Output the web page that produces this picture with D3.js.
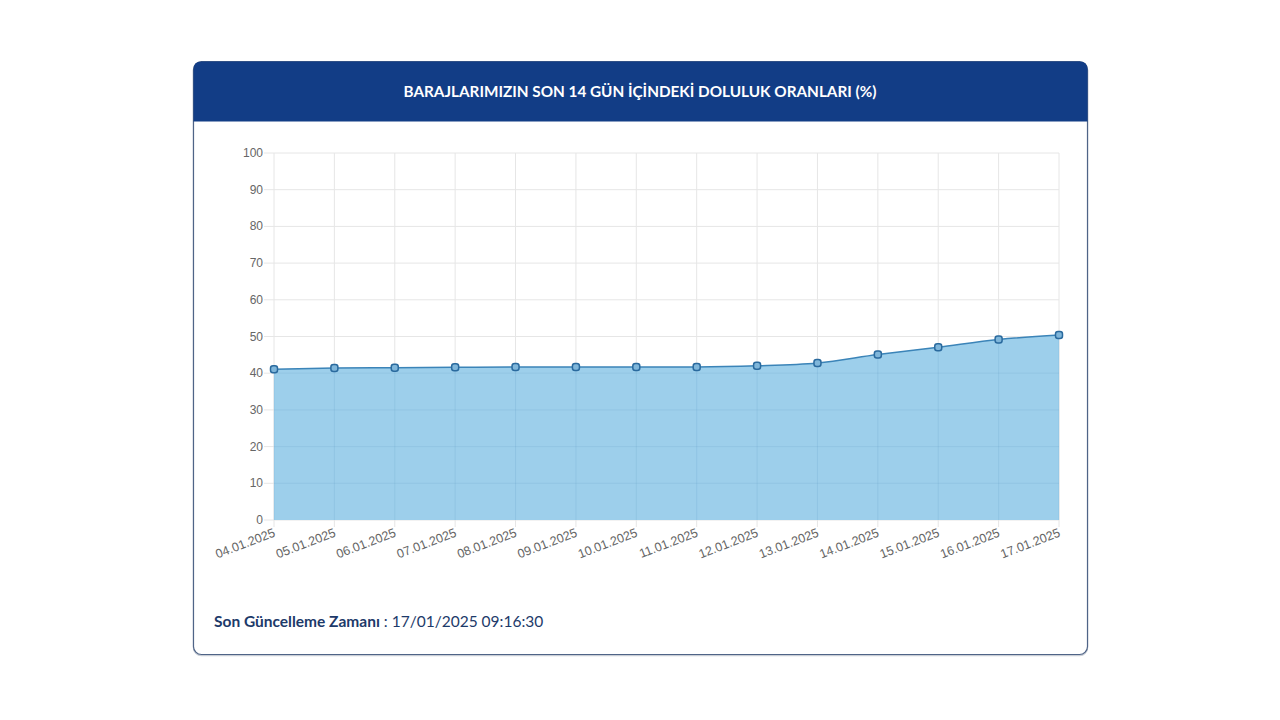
<!DOCTYPE html>
<html><head><meta charset="utf-8">
<script src="https://cdn.jsdelivr.net/npm/d3@7"></script>
<style>
html,body{margin:0;padding:0;background:#fff;width:1280px;height:720px;overflow:hidden;}
svg{display:block;}
</style></head>
<body>
<svg id="c" width="1280" height="720"></svg>
<script>
const dates = ["04.01.2025","05.01.2025","06.01.2025","07.01.2025","08.01.2025","09.01.2025","10.01.2025","11.01.2025","12.01.2025","13.01.2025","14.01.2025","15.01.2025","16.01.2025","17.01.2025"];
const values = [41.1, 41.4, 41.5, 41.6, 41.7, 41.7, 41.7, 41.7, 42.0, 42.8, 45.1, 47.1, 49.2, 50.4];
const yTicks = [0,10,20,30,40,50,60,70,80,90,100];
const title = "BARAJLARIMIZIN SON 14 GÜN İÇİNDEKİ DOLULUK ORANLARI (%)";
const footLabel = "Son Güncelleme Zamanı";
const footValue = " : 17/01/2025 09:16:30";

const svg = d3.select("#c");
// card
const card = {x:193.5,y:61.5,w:894,h:593};
svg.append("rect").attr("x",card.x).attr("y",card.y+1).attr("width",card.w).attr("height",card.h)
  .attr("rx",8).attr("fill","none").attr("stroke","#c9ced6").attr("stroke-width",1.5);
svg.append("rect").attr("x",card.x).attr("y",card.y).attr("width",card.w).attr("height",card.h)
  .attr("rx",8).attr("fill","#fff").attr("stroke","#4f6487").attr("stroke-width",1.2);
// header
const hh=60;
svg.append("path").attr("d",`M${card.x},${card.y+hh} V${card.y+8} Q${card.x},${card.y} ${card.x+8},${card.y} H${card.x+card.w-8} Q${card.x+card.w},${card.y} ${card.x+card.w},${card.y+8} V${card.y+hh} Z`)
  .attr("fill","#123d86");
svg.append("text").attr("x",640).attr("y",97).attr("text-anchor","middle")
  .attr("fill","#fff").attr("font-family","Lato, 'Open Sans', sans-serif").attr("font-weight","bold")
  .attr("font-size",15.3).text(title);

const x = d3.scalePoint().domain(dates).range([274,1059]);
const y = d3.scaleLinear().domain([0,100]).range([520,153]);

const g = svg.append("g");
// grid
g.selectAll(".hg").data(yTicks).join("line").attr("x1",264).attr("x2",1059)
  .attr("y1",d=>y(d)).attr("y2",d=>y(d)).attr("stroke","#e6e6e6").attr("stroke-width",1);
g.selectAll(".vg").data(dates).join("line").attr("x1",d=>x(d)).attr("x2",d=>x(d))
  .attr("y1",153).attr("y2",527).attr("stroke","#e6e6e6").attr("stroke-width",1);

const area = d3.area().x(d=>x(d.d)).y0(y(0)).y1(d=>y(d.v)).curve(d3.curveMonotoneX);
const line = d3.line().x(d=>x(d.d)).y(d=>y(d.v)).curve(d3.curveMonotoneX);
const data = dates.map((d,i)=>({d,v:values[i]}));
g.append("path").attr("d",area(data)).attr("fill","#9dcfeb");
// faint grid over fill
g.selectAll(".vg2").data(dates).join("line").attr("x1",d=>x(d)).attr("x2",d=>x(d))
  .attr("y1",d=>y(values[dates.indexOf(d)])).attr("y2",520).attr("stroke","rgba(60,120,170,0.12)");
g.selectAll(".hg2").data(yTicks.filter(t=>t>0&&t<=40)).join("line").attr("x1",274).attr("x2",1059)
  .attr("y1",d=>y(d)).attr("y2",d=>y(d)).attr("stroke","rgba(60,120,170,0.1)");
g.append("path").attr("d",line(data)).attr("fill","none").attr("stroke","#3b84b8").attr("stroke-width",1.5);
g.selectAll(".pt").data(data).join("rect")
  .attr("x",d=>x(d.d)-3.5).attr("y",d=>y(d.v)-3.5).attr("width",7).attr("height",7).attr("rx",2.5)
  .attr("fill","#7fb6da").attr("stroke","#2a6a9e").attr("stroke-width",1.5);

// y axis labels
g.selectAll(".yl").data(yTicks).join("text").attr("x",263).attr("y",d=>y(d)+4).attr("text-anchor","end")
  .attr("font-family","'Liberation Sans', Arial, sans-serif").attr("font-size",12).attr("fill","#666").text(d=>d);
// x labels
g.selectAll(".xl").data(dates).join("text")
  .attr("transform",d=>`translate(${x(d)+2},${536}) rotate(-21)`).attr("text-anchor","end")
  .attr("font-family","'Liberation Sans', Arial, sans-serif").attr("font-size",12.5).attr("fill","#666").text(d=>d);

// footer
const ft = svg.append("text").attr("x",214).attr("y",627).attr("font-family","Lato, 'Open Sans', sans-serif").attr("font-size",15.5);
ft.append("tspan").attr("font-weight","bold").attr("fill","#1d3a6a").text(footLabel);
ft.append("tspan").attr("fill","#1d3a6a").text(footValue);
</script>
</body></html>
